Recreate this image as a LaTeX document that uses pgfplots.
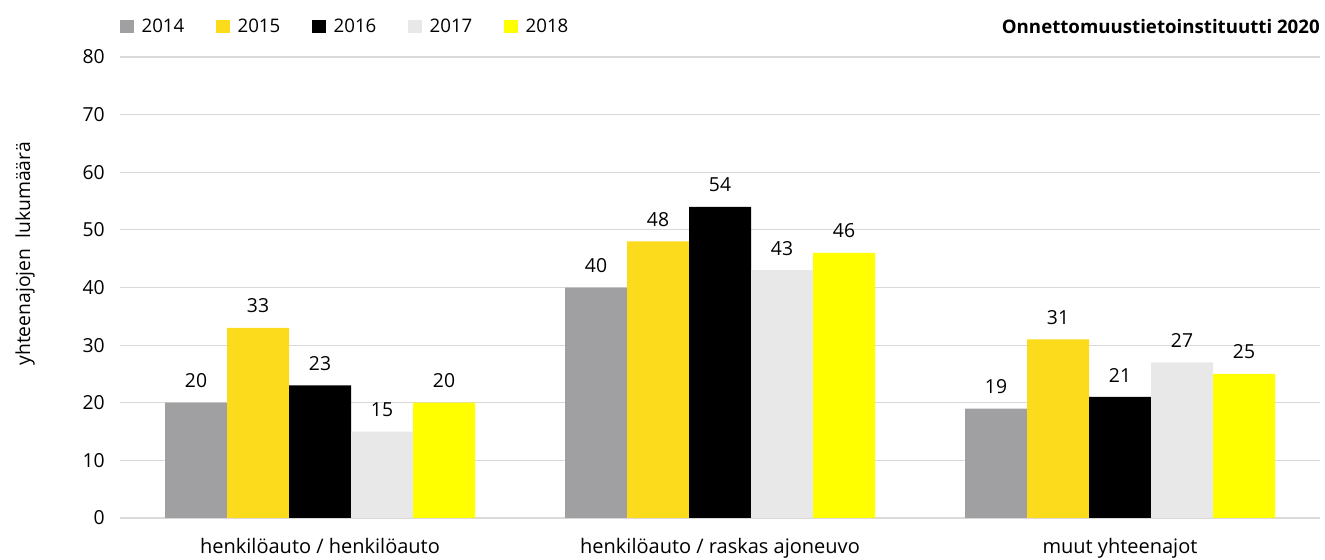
\documentclass[border=0pt]{standalone}
\usepackage{fontspec}
\setmainfont{Open Sans}
\usepackage{pgfplots}
\pgfplotsset{compat=1.18}
\definecolor{cA}{HTML}{A0A0A2}
\definecolor{cB}{HTML}{FCDA1C}
\definecolor{cC}{HTML}{000000}
\definecolor{cD}{HTML}{E8E8E8}
\definecolor{cE}{HTML}{FFFF00}
\definecolor{gridc}{HTML}{D9D9D9}
\begin{document}
\begin{tikzpicture}
\path[use as bounding box] (0,0) rectangle (993.75pt,420pt);
\begin{axis}[
  at={(90pt,31.5pt)}, anchor=south west,
  scale only axis, width=900pt, height=345.75pt,
  ybar=0pt, bar width=0.155,
  xmin=-0.5, xmax=2.5, ymin=0, ymax=80,
  ytick={0,10,...,80},
  xtick=data,
  xticklabels={henkilöauto / henkilöauto, henkilöauto / raskas ajoneuvo, muut yhteenajot},
  axis x line*=bottom, axis y line*=left,
  y axis line style={draw=none},
  x axis line style={draw=gridc, line width=0.8pt},
  ymajorgrids, grid style={draw=gridc, line width=0.8pt},
  major tick length=0pt,
  tick label style={font=\fontsize{14.5}{16}\selectfont},
  xticklabel style={font=\fontsize{15}{17}\selectfont, yshift=-12pt},
  /pgf/number format/assume math mode=true,
  yticklabel style={xshift=-8pt},
  ylabel={yhteenajojen\ \ lukumäärä},
  ylabel style={at={(axis description cs:-0.079,0.573)}, anchor=center, font=\fontsize{14.5}{16}\selectfont},
  nodes near coords,
  every node near coord/.append style={font=\fontsize{14.5}{16}\selectfont, anchor=south, inner sep=0pt, yshift=11pt, text=black},
  legend columns=5,
  legend style={at={(axis description cs:0,1)}, anchor=west, yshift=23pt, draw=none, inner sep=0pt, font=\fontsize{14}{16}\selectfont,
    /tikz/every odd column/.append style={column sep=4pt},
    /tikz/every even column/.append style={column sep=22pt}},
  legend image code/.code={\fill[#1,draw=none] (0pt,-5pt) rectangle (10pt,5pt);},
  clip=false,
]
\addplot[fill=cA, draw=none] coordinates {(0,20) (1,40) (2,19)};
\addplot[fill=cB, draw=none] coordinates {(0,33) (1,48) (2,31)};
\addplot[fill=cC, draw=none] coordinates {(0,23) (1,54) (2,21)};
\addplot[fill=cD, draw=none] coordinates {(0,15) (1,43) (2,27)};
\addplot[fill=cE, draw=none] coordinates {(0,20) (1,46) (2,25)};
\legend{2014,2015,2016,2017,2018}
\node[anchor=east, inner sep=0pt, font=\bfseries\fontsize{14}{16}\selectfont] at ([yshift=23pt]rel axis cs:1,1) {Onnettomuustietoinstituutti 2020};
\end{axis}
\end{tikzpicture}
\end{document}
